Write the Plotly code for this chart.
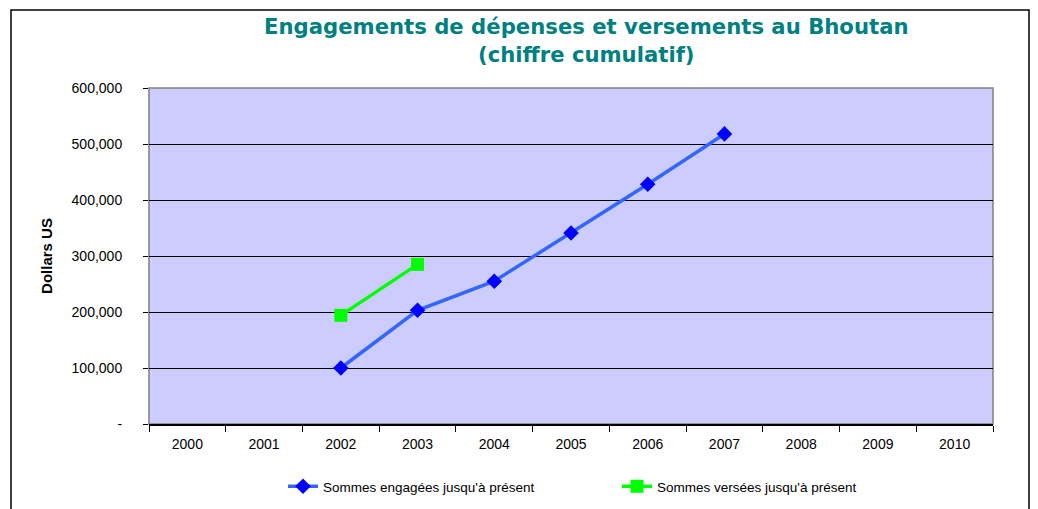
import plotly.graph_objects as go

years = [str(y) for y in range(2000, 2011)]
engaged_years = ["2002", "2003", "2004", "2005", "2006", "2007"]
engaged_vals = [100000, 203000, 255000, 341000, 428000, 518000]
paid_years = ["2002", "2003"]
paid_vals = [194000, 285000]
y_tickvals = [0, 100000, 200000, 300000, 400000, 500000, 600000]
y_ticktext = ["-", "100,000", "200,000", "300,000", "400,000", "500,000", "600,000"]

# the page body adds an 8px offset, so figure coords = page coords - 8
OFF = 8
W, H = 1038 - OFF, 509 - OFF
L, R, T, B = 149 - OFF, 993 - OFF, 88 - OFF, 424 - OFF

fig = go.Figure()
fig.add_trace(go.Scatter(
    x=engaged_years, y=engaged_vals, mode="lines+markers",
    name="Sommes engagées jusqu'à présent",
    line=dict(color="#3366FF", width=3.5),
    marker=dict(symbol="diamond", size=12, color="#0000FF"),
))
fig.add_trace(go.Scatter(
    x=paid_years, y=paid_vals, mode="lines+markers",
    name="Sommes versées jusqu'à présent",
    line=dict(color="#00FF00", width=3.5),
    marker=dict(symbol="square", size=13, color="#00FF00"),
))

def px_x(p):  # page px -> paper x
    return (p - OFF - L) / (R - L)

def px_y(p):  # page px -> paper y
    return (B - (p - OFF)) / (B - T)

# outer chart border
fig.add_shape(type="rect", xref="paper", yref="paper",
              x0=px_x(11), x1=px_x(1029), y0=px_y(540), y1=px_y(10),
              line=dict(color="black", width=1.5), layer="below")
# plot area border (gray)
fig.add_shape(type="rect", xref="paper", yref="paper",
              x0=0, x1=1, y0=0, y1=1,
              line=dict(color="#808080", width=1.5), layer="below")

font_main = "Liberation Sans, Arial, sans-serif"

fig.add_annotation(
    text="<b>Engagements de dépenses et versements au Bhoutan<br>(chiffre cumulatif)</b>",
    xref="paper", yref="paper", x=px_x(586), y=px_y(40),
    xanchor="center", yanchor="middle", showarrow=False, align="center",
    font=dict(family="DejaVu Sans, Verdana, sans-serif", size=21.2, color="#008080"),
)

fig.update_layout(
    width=W, height=H,
    margin=dict(l=L, r=W - R, t=T, b=H - B, autoexpand=False),
    paper_bgcolor="white",
    plot_bgcolor="#CCCCFF",
    showlegend=True,
    xaxis=dict(
        type="category", categoryorder="array", categoryarray=years,
        range=[-0.5, 10.5], tickson="boundaries",
        ticks="outside", ticklen=6, tickcolor="black", tickwidth=1,
        showline=True, linecolor="black", linewidth=1.5,
        showgrid=False, zeroline=False,
        ticklabelstandoff=6,
        tickfont=dict(family=font_main, size=14, color="black"),
    ),
    yaxis=dict(
        range=[0, 600000], tickvals=y_tickvals, ticktext=y_ticktext,
        ticks="outside", ticklen=5, tickcolor="black",
        showgrid=True, gridcolor="black", gridwidth=1,
        showline=False, zeroline=False,
        tickfont=dict(family=font_main, size=14, color="black"),
        ticklabelstandoff=18,
        title=dict(text="Dollars US", standoff=15,
                   font=dict(family=font_main, size=15, color="black", weight="bold")),
    ),
    legend=dict(
        orientation="h", x=px_x(283), y=px_y(471), xanchor="left", yanchor="top",
        font=dict(family=font_main, size=13.5, color="black"),
        entrywidth=289, entrywidthmode="pixels",
        bgcolor="rgba(0,0,0,0)",
    ),
)

fig.write_html("out.html")
